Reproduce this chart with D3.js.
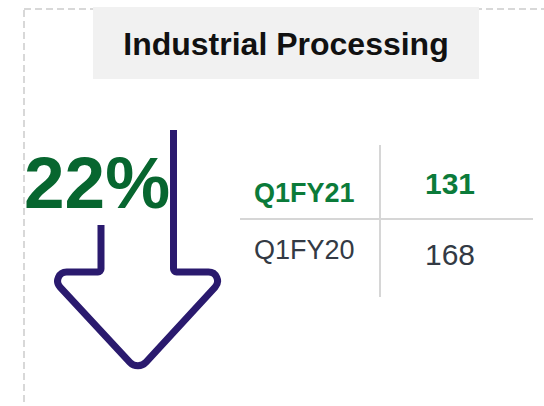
<!DOCTYPE html>
<html>
<head>
<meta charset="utf-8">
<script src="https://cdn.jsdelivr.net/npm/d3@7"></script>
<style>
  body { margin: 0; background: #fff; }
  text { font-family: "Liberation Sans", Arial, sans-serif; }
</style>
</head>
<body>
<svg></svg>
<script>
// data
let title = "Industrial Processing";
let periods = ["Q1FY21", "Q1FY20"];
let values = [131, 168];
let changePct = 22;

let width = 544;
let height = 406;
let green = "#0b7b3a";
let darkGreen = "#07662f";
let grey = "#333a44";
let purple = "#2a1a6e";

let svg = d3.select('svg')
    .attr('width', width)
    .attr('height', height);

// dashed frame
svg.append('rect')
    .attr('x', 24)
    .attr('y', 9)
    .attr('width', width)
    .attr('height', height)
    .attr('fill', 'none')
    .attr('stroke', '#d8d8d8')
    .attr('stroke-width', 2)
    .attr('stroke-dasharray', '7,4');

// title box
svg.append('rect')
    .attr('x', 93)
    .attr('y', 7)
    .attr('width', 386)
    .attr('height', 72)
    .attr('fill', '#f1f1f1');

svg.append('text')
    .attr('x', 286)
    .attr('y', 55)
    .attr('text-anchor', 'middle')
    .style('font-size', '32px')
    .style('font-weight', 'bold')
    .style('fill', '#111')
    .text(title);

// big percentage
svg.append('text')
    .attr('x', 24)
    .attr('y', 208)
    .style('font-size', '73px')
    .style('font-weight', 'bold')
    .style('fill', darkGreen)
    .text(changePct + '%');

// down arrow icon (rounded corners via arcTo)
let arrowPts = [[101, 225], [101, 272], [46, 272], [138, 371], [229, 272], [173.5, 272], [173.5, 130]];
let radii = [0, 3, 9, 11, 9, 3, 0];
let p = d3.path();
p.moveTo(arrowPts[0][0], arrowPts[0][1]);
for (let i = 1; i < arrowPts.length - 1; i++) {
    p.arcTo(arrowPts[i][0], arrowPts[i][1], arrowPts[i + 1][0], arrowPts[i + 1][1], radii[i]);
}
p.lineTo(arrowPts[arrowPts.length - 1][0], arrowPts[arrowPts.length - 1][1]);

svg.append('path')
    .attr('d', p.toString())
    .attr('fill', 'none')
    .attr('stroke', purple)
    .attr('stroke-width', 7);

// table
let yRow = d3.scaleBand()
    .domain(periods)
    .range([143, 295]);

let rowStyle = [
    { labelDy: 59, valueDy: 51, weight: 'bold', fill: green },
    { labelDy: 40, valueDy: 46, weight: 'normal', fill: grey }
];

svg.append('line')
    .attr('x1', 380).attr('x2', 380)
    .attr('y1', 145).attr('y2', 297)
    .attr('stroke', '#d6d6d6')
    .attr('stroke-width', 2);

svg.append('line')
    .attr('x1', 240).attr('x2', 533)
    .attr('y1', yRow(periods[1])).attr('y2', yRow(periods[1]))
    .attr('stroke', '#d6d6d6')
    .attr('stroke-width', 2);

let rows = svg.selectAll('.row')
    .data(periods)
    .enter()
    .append('g')
    .attr('class', 'row');

rows.append('text')
    .attr('x', 254)
    .attr('y', (d, i) => yRow(d) + rowStyle[i].labelDy)
    .style('font-size', '27px')
    .style('font-weight', (d, i) => rowStyle[i].weight)
    .style('fill', (d, i) => rowStyle[i].fill)
    .text((d) => d);

rows.append('text')
    .attr('x', 450)
    .attr('y', (d, i) => yRow(d) + rowStyle[i].valueDy)
    .attr('text-anchor', 'middle')
    .style('font-size', '30px')
    .style('font-weight', (d, i) => rowStyle[i].weight)
    .style('fill', (d, i) => rowStyle[i].fill)
    .text((d, i) => values[i]);
</script>
</body>
</html>
